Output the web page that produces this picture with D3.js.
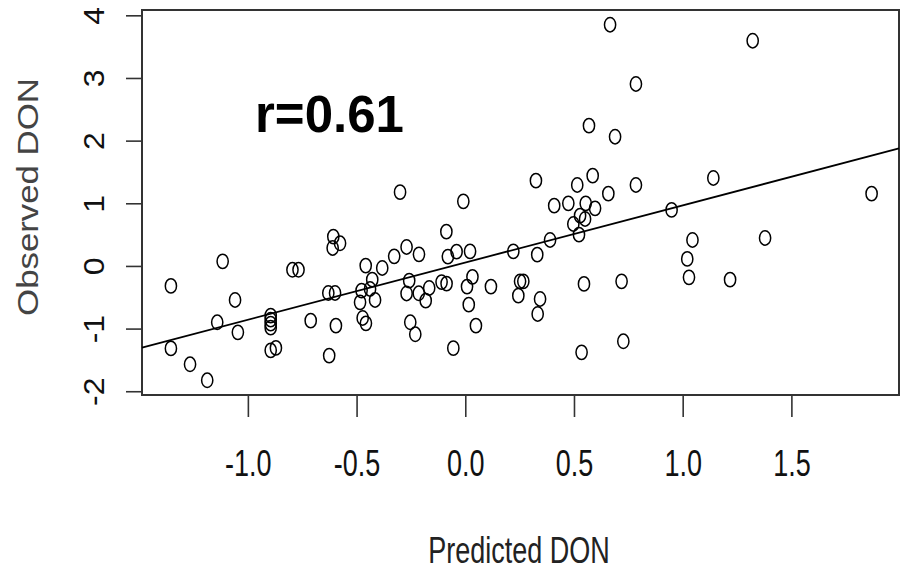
<!DOCTYPE html>
<html>
<head>
<meta charset="utf-8">
<script src="https://cdn.jsdelivr.net/npm/d3@7"></script>
<style>
  html, body { margin: 0; padding: 0; background: white; }
  svg { display: block; font-family: "Liberation Sans", Arial, sans-serif; }
</style>
</head>
<body>
<svg width="905" height="571"></svg>
<script>
// === Data

const PREDICTED = [
  -1.354, -1.116, -1.059, -1.141, -1.046, -1.354, -1.266, -1.187,
  -0.895, -0.895, -0.895, -0.895, -0.895, -0.871,
  -0.795, -0.767, -0.711, -0.626, -0.595, -0.607, -0.576, -0.610, -0.630, -0.599,
  -0.458, -0.382, -0.327, -0.270, -0.213, -0.428, -0.477, -0.438, -0.484, -0.415,
  -0.472, -0.457, -0.270, -0.258, -0.214, -0.182, -0.166, -0.253, -0.230,
  -0.055, -0.109, -0.086, -0.080, -0.040, 0.022, 0.033, 0.008, 0.016, 0.049, 0.118,
  -0.087, -0.300, -0.009,
  0.221, 0.331, 0.390, 0.325, 0.409, 0.474, 0.515, 0.586, 0.658, 0.785, 0.554, 0.597,
  0.497, 0.528, 0.551, 0.523, 0.949, 1.045, 1.021, 1.029, 0.546, 0.719, 0.535, 0.727,
  0.244, 0.252, 0.267, 0.344, 0.333,
  0.666, 1.322, 0.785, 0.689, 1.141, 1.869, 0.569, 1.379, 1.218
];
const OBSERVED = [
  -0.319, 0.073, -0.543, -0.900, -1.060, -1.316, -1.570, -1.825,
  -0.793, -0.857, -0.921, -0.985, -1.347, -1.308,
  -0.062, -0.062, -0.873, -1.431, -0.953, 0.468, 0.361, 0.287, -0.431, -0.431,
  0.005, -0.032, 0.153, 0.303, 0.185, -0.219, -0.394, -0.367, -0.581, -0.543,
  -0.830, -0.916, -0.439, -0.235, -0.437, -0.554, -0.351, -0.900, -1.091,
  -1.312, -0.258, -0.282, 0.148, 0.228, 0.233, -0.174, -0.330, -0.618, -0.953, -0.330,
  0.547, 1.178, 1.031,
  0.233, 0.180, 0.415, 1.361, 0.962, 0.999, 1.292, 1.441, 1.154, 1.292, 0.999, 0.919,
  0.670, 0.803, 0.750, 0.499, 0.894, 0.415, 0.112, -0.182, -0.287, -0.246, -1.379, -1.203,
  -0.474, -0.246, -0.246, -0.527, -0.766,
  3.850, 3.595, 2.904, 2.063, 1.404, 1.154, 2.239, 0.447, -0.219
];
const X_TICKS = [-1.0, -0.5, 0.0, 0.5, 1.0, 1.5];
const Y_TICKS = [-2, -1, 0, 1, 2, 3, 4];
const FIT_INTERCEPT = 0.054;
const FIT_SLOPE = 0.913;
const R_LABEL = 'r=0.61';
const X_TITLE = 'Predicted DON';
const Y_TITLE = 'Observed DON';


// === Config

const BOX = { left: 142, top: 10, right: 899, bottom: 395 };
const X_DOMAIN = [-1.487, 1.995];
const Y_DOMAIN = [-2.06, 4.085];
const INK = '#111';
const FRAME = '#333';


// === Main stuff

function main() {
  const svg = d3.select('svg');

  const x = d3.scaleLinear().domain(X_DOMAIN).range([BOX.left, BOX.right]);
  const y = d3.scaleLinear().domain(Y_DOMAIN).range([BOX.bottom, BOX.top]);

  // axes: ticks hang outside the box, labels are stretched like the original bitmap
  // (plain hyphen for negatives, like R does)
  const xAxis = d3.axisBottom(x)
    .tickValues(X_TICKS)
    .tickSize(22)
    .tickFormat(d => d.toFixed(1));
  const xNode = svg.append('g')
    .attr('transform', `translate(0,${BOX.bottom})`)
    .call(xAxis);
  xNode.select('.domain').remove();
  xNode.selectAll('line').attr('stroke', FRAME).attr('stroke-width', 1.6);
  xNode.selectAll('text')
    .attr('y', null).attr('dy', null)
    .attr('transform', 'translate(0,81) scale(1,1.35)')
    .attr('font-size', 27)
    .attr('font-family', '"Liberation Sans", Arial, sans-serif')
    .attr('fill', INK);

  const yAxis = d3.axisLeft(y)
    .tickValues(Y_TICKS)
    .tickSize(16)
    .tickFormat(d => String(d));
  const yNode = svg.append('g')
    .attr('transform', `translate(${BOX.left},0)`)
    .call(yAxis);
  yNode.select('.domain').remove();
  yNode.selectAll('line').attr('stroke', FRAME).attr('stroke-width', 1.6);
  yNode.selectAll('text')
    .attr('x', null).attr('dy', null)
    .attr('text-anchor', 'middle')
    .attr('transform', 'translate(-38,0) rotate(-90) scale(1.1,1)')
    .attr('font-size', 29)
    .attr('font-family', '"Liberation Sans", Arial, sans-serif')
    .attr('fill', INK);

  // plot frame
  svg.append('rect')
    .attr('x', BOX.left)
    .attr('y', BOX.top)
    .attr('width', BOX.right - BOX.left)
    .attr('height', BOX.bottom - BOX.top)
    .attr('fill', 'none')
    .attr('stroke', FRAME)
    .attr('stroke-width', 2);

  // fitted line across the whole domain
  const fit = d => FIT_INTERCEPT + FIT_SLOPE * d;
  const line = d3.line().x(d => x(d)).y(d => y(fit(d)));
  svg.append('path')
    .attr('d', line(X_DOMAIN))
    .attr('fill', 'none')
    .attr('stroke', '#000')
    .attr('stroke-width', 1.8);

  // points (open circles, a bit taller than wide in the source)
  const points = PREDICTED.map((p, i) => ({ p: p, o: OBSERVED[i] }));
  svg.append('g')
    .selectAll('ellipse')
    .data(points)
    .enter()
    .append('ellipse')
    .attr('cx', d => x(d.p))
    .attr('cy', d => y(d.o))
    .attr('rx', 5.6)
    .attr('ry', 7.2)
    .attr('fill', 'none')
    .attr('stroke', '#000')
    .attr('stroke-width', 1.5);

  // titles
  svg.append('text')
    .attr('transform', `translate(${(428 + 610) / 2},563) scale(1,1.35)`)
    .attr('text-anchor', 'middle')
    .attr('font-size', 27)
    .attr('fill', '#222')
    .text(X_TITLE);

  svg.append('text')
    .attr('transform', 'translate(38,197) rotate(-90) scale(1.2,1)')
    .attr('text-anchor', 'middle')
    .attr('font-size', 29)
    .attr('fill', '#444')
    .text(Y_TITLE);

  svg.append('text')
    .attr('x', 255)
    .attr('y', 132)
    .attr('font-size', 51)
    .attr('font-weight', 'bold')
    .attr('fill', '#000')
    .text(R_LABEL);
}


// === Init

main();
</script>
</body>
</html>
